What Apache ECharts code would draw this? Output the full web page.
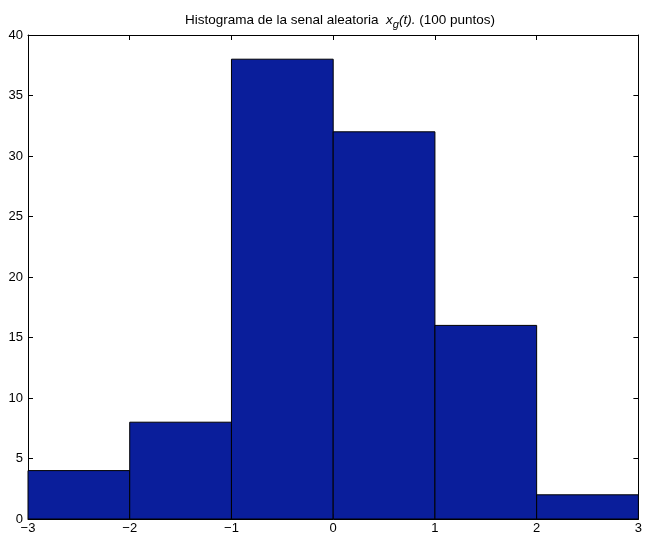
<!DOCTYPE html>
<html><head><meta charset="utf-8">
<script src="https://cdn.jsdelivr.net/npm/echarts@6/dist/echarts.min.js"></script>
<style>html,body{margin:0;padding:0;background:#fff}#c{width:645px;height:536px}</style>
</head><body><div id="c"></div>
<script>
var binEdgesLo = [-3, -2, -1, 0, 1, 2];
var binEdgesHi = [-2, -1, 0, 1, 2, 3];
var counts = [4, 8, 38, 32, 16, 2];
var xTicks = [-3, -2, -1, 0, 1, 2, 3];
var yTicks = [0, 5, 10, 15, 20, 25, 30, 35, 40];

var data = counts.map(function (c, i) { return [binEdgesLo[i], binEdgesHi[i], c]; });
var chart = echarts.init(document.getElementById('c'));
var font = 'Liberation Sans, Arial, Helvetica, sans-serif';
function fmt(v) { return String(v).replace('-', '\u2212'); }
var axisCommon = {
  axisLine: { show: true, onZero: false, lineStyle: { color: '#000', width: 1 } },
  axisTick: { show: true, inside: true, length: 5, lineStyle: { color: '#000' } },
  splitLine: { show: false }
};
chart.setOption({
  animation: false,
  title: {
    text: 'Histograma de la senal aleatoria  {i|x}{sub|g}{i|(t).} (100 puntos)',
    left: 335, top: 5, textAlign: 'center',
    textStyle: {
      fontFamily: font, fontSize: 13.5, fontWeight: 'normal', color: '#000',
      rich: {
        i: { fontFamily: font, fontSize: 13.5, fontStyle: 'italic', color: '#000' },
        sub: { fontFamily: font, fontSize: 11, fontStyle: 'italic', color: '#000', padding: [9, 0, 0, 0] }
      }
    }
  },
  grid: { left: 28, right: 5, top: 35, bottom: 17 },
  xAxis: [
    Object.assign({ type: 'value', min: -3, max: 3, interval: 1, position: 'bottom',
      axisLabel: { fontFamily: font, fontSize: 13, color: '#000', margin: 3, formatter: fmt } }, axisCommon),
    Object.assign({ type: 'value', min: -3, max: 3, interval: 1, position: 'top',
      axisLabel: { show: false } }, axisCommon)
  ],
  yAxis: [
    Object.assign({ type: 'value', min: 0, max: 40, interval: 5, position: 'left',
      axisLabel: { fontFamily: font, fontSize: 13, color: '#000', margin: 5, formatter: fmt } }, axisCommon),
    Object.assign({ type: 'value', min: 0, max: 40, interval: 5, position: 'right',
      axisLabel: { show: false } }, axisCommon)
  ],
  series: [{
    type: 'custom',
    xAxisIndex: 0, yAxisIndex: 0,
    data: data,
    encode: { x: [0, 1], y: 2 },
    renderItem: function (params, api) {
      var p0 = api.coord([api.value(0), api.value(2)]);
      var p1 = api.coord([api.value(1), 0]);
      return {
        type: 'rect',
        shape: { x: p0[0], y: p0[1], width: p1[0] - p0[0], height: p1[1] - p0[1] },
        style: { fill: '#0a1e9b', stroke: '#000', lineWidth: 1 }
      };
    }
  }]
});
</script></body></html>
